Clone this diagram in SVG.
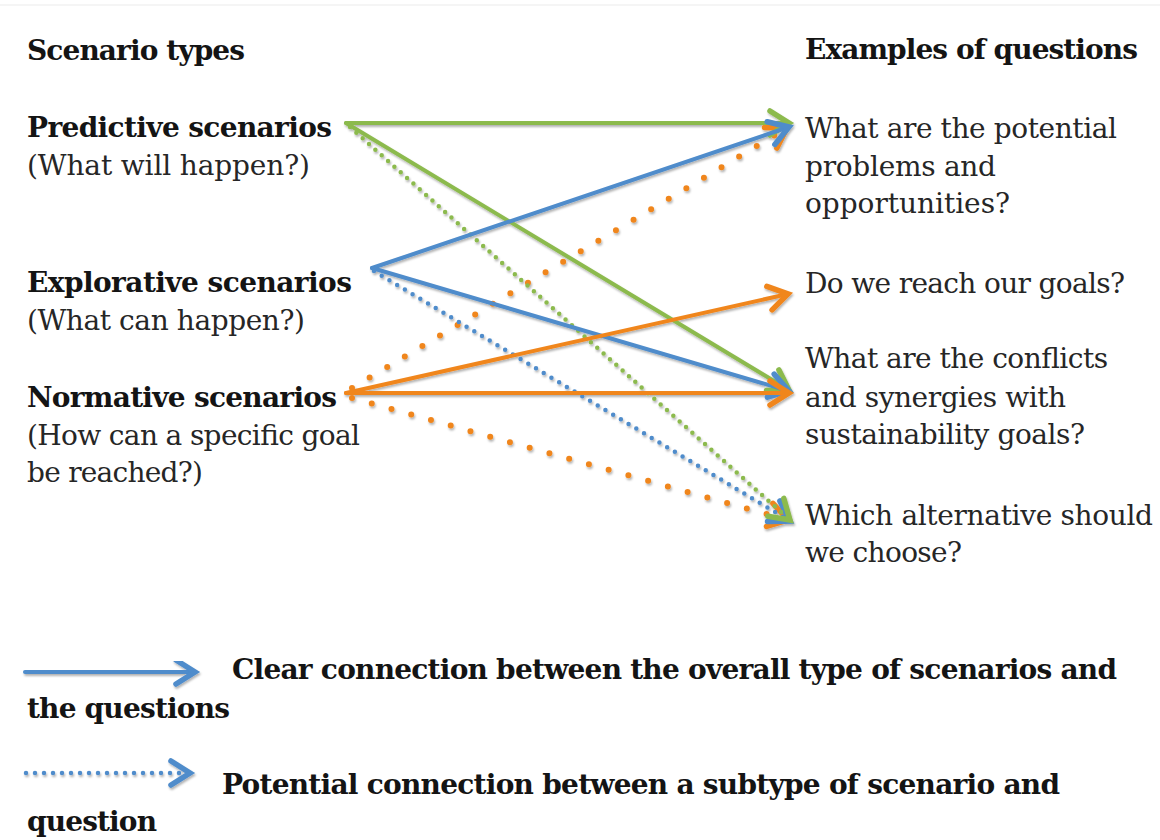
<svg xmlns="http://www.w3.org/2000/svg" width="1160" height="840" viewBox="0 0 1160 840">
<style>
text{font-family:"DejaVu Serif","Liberation Serif",serif;font-size:28px;fill:#262626}
.b{font-weight:bold;fill:#141414}
.s{fill:none;stroke-width:4;stroke-linecap:round}
.g{stroke:#8CBA4E}
.bl{stroke:#4F8CCB}
.o{stroke:#F0861E}
.dg{stroke-width:4.5;stroke-dasharray:0 8.5}
.db{stroke-width:4.5;stroke-dasharray:0 9}
.do{stroke-width:6;stroke-dasharray:0 20.5}
</style>
<defs>
<filter id="sh" x="-10%" y="-10%" width="120%" height="130%">
<feDropShadow dx="1" dy="2" stdDeviation="1.2" flood-color="#000" flood-opacity="0.3"/>
</filter>
<marker id="mg" markerUnits="userSpaceOnUse" orient="auto" refX="0" refY="0" markerWidth="40" markerHeight="40" viewBox="-25 -20 30 40" overflow="visible"><path d="M-19,-12 L0,0 L-19,12" fill="none" stroke="#8CBA4E" stroke-width="5.5" stroke-linecap="round"/></marker>
<marker id="mb" markerUnits="userSpaceOnUse" orient="auto" refX="0" refY="0" markerWidth="40" markerHeight="40" viewBox="-25 -20 30 40" overflow="visible"><path d="M-19,-12 L0,0 L-19,12" fill="none" stroke="#4F8CCB" stroke-width="5.5" stroke-linecap="round"/></marker>
<marker id="mo" markerUnits="userSpaceOnUse" orient="auto" refX="0" refY="0" markerWidth="40" markerHeight="40" viewBox="-25 -20 30 40" overflow="visible"><path d="M-19,-12 L0,0 L-19,12" fill="none" stroke="#F0861E" stroke-width="5.5" stroke-linecap="round"/></marker>
</defs>
<rect width="1160" height="840" fill="#fff"/>
<line x1="0" y1="5" x2="1160" y2="5" stroke="#f2f2f2" stroke-width="1.5"/>

<g id="headers">
<text class="b" x="27" y="60" textLength="218">Scenario types</text>
<text class="b" x="805" y="59" textLength="333">Examples of questions</text>
</g>

<g id="predictive">
<text class="b" x="27" y="137" textLength="305">Predictive scenarios</text>
<text x="27" y="175" textLength="283">(What will happen?)</text>
</g>
<g id="explorative">
<text class="b" x="27" y="292" textLength="325">Explorative scenarios</text>
<text x="27" y="330" textLength="278">(What can happen?)</text>
</g>
<g id="normative">
<text class="b" x="27" y="407" textLength="310">Normative scenarios</text>
<text x="27" y="445" textLength="333">(How can a specific goal</text>
<text x="27" y="482" textLength="176">be reached?)</text>
</g>

<g id="q-potential">
<text x="805" y="138" textLength="312">What are the potential</text>
<text x="805" y="176" textLength="191">problems and</text>
<text x="805" y="213" textLength="205">opportunities?</text>
</g>
<g id="q-goals">
<text x="805" y="293" textLength="320">Do we reach our goals?</text>
</g>
<g id="q-conflicts">
<text x="805" y="368" textLength="303">What are the conflicts</text>
<text x="805" y="407" textLength="261">and synergies with</text>
<text x="805" y="444" textLength="280">sustainability goals?</text>
</g>
<g id="q-alternative">
<text x="805" y="525" textLength="348">Which alternative should</text>
<text x="805" y="562" textLength="157">we choose?</text>
</g>

<g id="connectors" filter="url(#sh)">
<line class="s o do" x1="352" y1="388" x2="787" y2="128" marker-end="url(#mo)"/>
<line class="s o do" x1="352" y1="398" x2="788" y2="520" marker-end="url(#mo)"/>
<line class="s bl db" x1="374" y1="271" x2="790" y2="521" marker-end="url(#mb)"/>
<line class="s g dg" x1="350" y1="127" x2="790" y2="520" marker-end="url(#mg)"/>
<line class="s g" x1="346" y1="123" x2="789" y2="123" marker-end="url(#mg)"/>
<line class="s g" x1="346" y1="123" x2="789" y2="390" marker-end="url(#mg)"/>
<line class="s bl" x1="372" y1="268" x2="789" y2="127" marker-end="url(#mb)"/>
<line class="s bl" x1="372" y1="268" x2="789" y2="391" marker-end="url(#mb)"/>
<line class="s o" x1="346" y1="393" x2="788" y2="294" marker-end="url(#mo)"/>
<line class="s o" x1="346" y1="393" x2="789" y2="393" marker-end="url(#mo)"/>
</g>

<g id="legend">
<g filter="url(#sh)">
<line class="s bl" x1="25" y1="672" x2="195" y2="672" stroke-width="5" marker-end="url(#mb)"/>
<line class="s bl db" x1="26" y1="773" x2="190" y2="773" marker-end="url(#mb)"/>
</g>
<text class="b" x="232" y="679" textLength="885">Clear connection between the overall type of scenarios and</text>
<text class="b" x="27" y="718" textLength="203">the questions</text>
<text class="b" x="222" y="794" textLength="838">Potential connection between a subtype of scenario and</text>
<text class="b" x="27" y="831" textLength="130">question</text>
</g>
</svg>
